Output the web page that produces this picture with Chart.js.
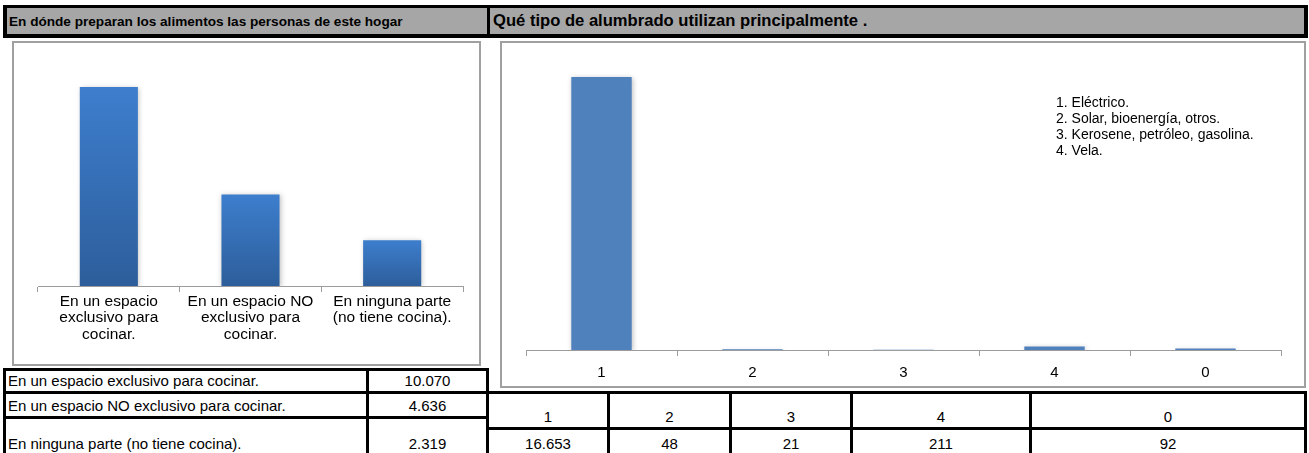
<!DOCTYPE html>
<html>
<head>
<meta charset="utf-8">
<script src="https://cdn.jsdelivr.net/npm/chart.js@4.4.0/dist/chart.umd.min.js"></script>
<style>
  body { margin: 0; width: 1309px; height: 453px; background: #fff; position: relative; overflow: hidden;
         font-family: "Liberation Sans", Arial, sans-serif; color: #000; }
  .abs { position: absolute; box-sizing: border-box; }
  .hdr { background: #a6a6a6; border: 4px solid #000; border-top-width: 3px; }
  .htxt { position: absolute; font-weight: bold; white-space: nowrap; line-height: 1; }
  .box { border: 2px solid #a0a0a0; background: #fff; }
  .cell { border: 3px solid #000; display: flex; align-items: flex-end; font-size: 15px;
          padding: 0 2px 3px 2px; white-space: nowrap; line-height: 1; }
  .cell.c { justify-content: center; }
  #leyenda { position: absolute; left: 1056px; top: 94px; font-size: 14px; line-height: 16px; white-space: nowrap; }
</style>
</head>
<body>
<div class="abs hdr" style="left:3px;top:5px;width:1305px;height:33px;"></div>
<div class="abs" style="left:487px;top:5px;width:3px;height:33px;background:#000;"></div>
<div class="htxt" id="tit1" style="left:9px;top:15px;font-size:13.6px;"></div>
<div class="htxt" id="tit2" style="left:493px;top:13px;font-size:16.6px;"></div>

<div class="abs box" style="left:12px;top:41px;width:469px;height:325px;"></div>
<canvas id="cocina" class="abs" width="465" height="321" style="left:14px;top:43px;"></canvas>

<div class="abs box" style="left:500px;top:41px;width:806px;height:347px;"></div>
<canvas id="alumbrado" class="abs" width="802" height="343" style="left:502px;top:43px;"></canvas>
<div id="leyenda"></div>

<div id="tablas"></div>

<script>
// datos
const titulo1 = "En dónde preparan los alimentos las personas de este hogar";
const titulo2 = "Qué tipo de alumbrado utilizan principalmente .";

const cocinaEtiquetas = [
  ["En un espacio", "exclusivo para", "cocinar."],
  ["En un espacio NO", "exclusivo para", "cocinar."],
  ["En ninguna parte", "(no tiene cocina)."]
];
const cocinaNombres = [
  "En un espacio exclusivo para cocinar.",
  "En un espacio NO exclusivo para cocinar.",
  "En ninguna parte (no tiene cocina)."
];
const cocinaValores = [10070, 4636, 2319];

const alumbradoCodigos = ["1", "2", "3", "4", "0"];
const alumbradoValores = [16653, 48, 21, 211, 92];
const alumbradoLeyenda = [
  "1. Eléctrico.",
  "2. Solar, bioenergía, otros.",
  "3. Kerosene, petróleo, gasolina.",
  "4. Vela."
];

const FUENTE = "'Liberation Sans', Arial, sans-serif";

function miles(v) {
  return String(v).replace(/\B(?=(\d{3})+(?!\d))/g, ".");
}

document.getElementById("tit1").textContent = titulo1;
document.getElementById("tit2").textContent = titulo2;
document.getElementById("leyenda").innerHTML = alumbradoLeyenda.map((t) => `<div>${t}</div>`).join("");

// celdas de las tablas
const tablas = document.getElementById("tablas");
function celda(x1, y1, x2, y2, texto, centrado) {
  const d = document.createElement("div");
  d.className = "abs cell" + (centrado ? " c" : "");
  d.style.left = (x1 - 1) + "px";
  d.style.top = (y1 - 1) + "px";
  d.style.width = (x2 - x1 + 3) + "px";
  d.style.height = (y2 - y1 + 3) + "px";
  d.textContent = texto;
  tablas.appendChild(d);
}

const filasIzq = [369, 392, 417, 455];
cocinaNombres.forEach((n, i) => {
  celda(4, filasIzq[i], 367, filasIzq[i + 1], n, false);
  celda(367, filasIzq[i], 487, filasIzq[i + 1], miles(cocinaValores[i]), true);
});

const colsDer = [487, 608, 730, 851, 1030, 1305];
alumbradoCodigos.forEach((c, i) => {
  celda(colsDer[i], 392, colsDer[i + 1], 428, c, true);
  celda(colsDer[i], 428, colsDer[i + 1], 455, miles(alumbradoValores[i]), true);
});

// sombra suave de las barras
const sombra = {
  id: "sombra",
  beforeDatasetsDraw(chart) {
    const c = chart.ctx;
    c.save();
    c.shadowColor = "rgba(0,0,0,0.25)";
    c.shadowBlur = 5;
    c.shadowOffsetX = 1;
    c.shadowOffsetY = 1;
  },
  afterDatasetsDraw(chart) {
    chart.ctx.restore();
  }
};

function ejeX(alto, tamano, relleno) {
  return {
    grid: { offset: true, drawOnChartArea: false, drawTicks: true, tickLength: 6, color: "#9c9c9c", lineWidth: 1 },
    border: { display: true, color: "#9c9c9c", width: 1 },
    ticks: {
      color: "#000",
      font: { family: FUENTE, size: tamano, lineHeight: 1.04 },
      padding: relleno,
      maxRotation: 0,
      autoSkip: false
    },
    afterFit: (s) => { s.height = alto; }
  };
}

function degradado(ctx) {
  const chart = ctx.chart;
  const y = chart.scales.y;
  if (!y || ctx.raw === undefined) return "#3a78c4";
  const arriba = y.getPixelForValue(ctx.raw);
  const abajo = y.getPixelForValue(0);
  if (!isFinite(arriba) || !isFinite(abajo) || abajo - arriba < 1) return "#3a78c4";
  const g = chart.ctx.createLinearGradient(0, arriba, 0, abajo);
  g.addColorStop(0, "#3d7ecd");
  g.addColorStop(1, "#2d5e9b");
  return g;
}

new Chart(document.getElementById("cocina"), {
  type: "bar",
  data: {
    labels: cocinaEtiquetas,
    datasets: [{
      data: cocinaValores,
      backgroundColor: degradado,
      borderWidth: 0,
      barPercentage: 0.41,
      categoryPercentage: 1
    }]
  },
  options: {
    responsive: false,
    animation: false,
    layout: { padding: { left: 24, right: 16, top: 6, bottom: 0 } },
    plugins: { legend: { display: false }, tooltip: { enabled: false } },
    scales: {
      x: ejeX(78, 15.5, 2),
      y: { display: false, min: 0, max: 12000 }
    }
  },
  plugins: [sombra]
});

new Chart(document.getElementById("alumbrado"), {
  type: "bar",
  data: {
    labels: alumbradoCodigos,
    datasets: [{
      data: alumbradoValores,
      backgroundColor: "#4f81bd",
      borderWidth: 0,
      barPercentage: 0.4,
      categoryPercentage: 1
    }]
  },
  options: {
    responsive: false,
    animation: false,
    layout: { padding: { left: 24, right: 23, top: 12, bottom: 0 } },
    plugins: { legend: { display: false }, tooltip: { enabled: false } },
    scales: {
      x: ejeX(36, 15, 9),
      y: { display: false, min: 0, max: 18000 }
    }
  },
  plugins: [sombra]
});
</script>
</body>
</html>
